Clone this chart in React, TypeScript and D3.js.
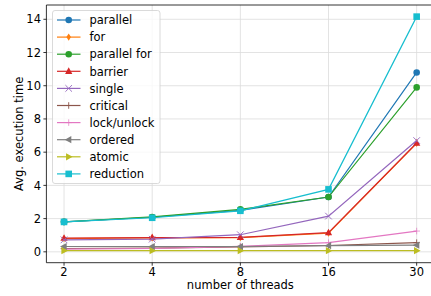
import React from "react";
import * as d3 from "d3";

const threads = ["2", "4", "8", "16", "30"];
const seriesNames = ["parallel", "for", "parallel for", "barrier", "single", "critical", "lock/unlock", "ordered", "atomic", "reduction"];
const parallel = [1.8, 2.08, 2.5, 3.3, 10.8];
const forLoop = [0.8, 0.84, 0.86, 1.12, 6.53];
const parallelFor = [1.8, 2.1, 2.56, 3.3, 9.9];
const barrier = [0.82, 0.86, 0.87, 1.15, 6.55];
const single = [0.72, 0.76, 1.03, 2.15, 6.7];
const critical = [0.2, 0.22, 0.3, 0.38, 0.55];
const lockUnlock = [0.16, 0.2, 0.33, 0.55, 1.25];
const ordered = [0.32, 0.32, 0.32, 0.37, 0.4];
const atomic = [0.07, 0.07, 0.07, 0.07, 0.07];
const reduction = [1.8, 2.05, 2.47, 3.76, 14.16];
const yTicks = [0, 2, 4, 6, 8, 10, 12, 14];

const seriesValues = [parallel, forLoop, parallelFor, barrier, single, critical, lockUnlock, ordered, atomic, reduction];
const colors = ["#1f77b4", "#ff7f0e", "#2ca02c", "#d62728", "#9467bd", "#8c564b", "#e377c2", "#7f7f7f", "#bcbd22", "#17becf"];
const markers = ["circle", "diamond", "circle", "triUp", "x", "plus", "plusSmall", "triLeft", "triRight", "square"];

const W = 431, H = 296;
const L = 46.4, R = 434.3, T = 5, B = 262.7;
const FONT = "DejaVu Sans, sans-serif";
const FS = 11.5;

function Marker({ type, x, y, c }: { type: string; x: number; y: number; c: string }) {
  const r = 3.3;
  switch (type) {
    case "circle":
      return <circle cx={x} cy={y} r={r} fill={c} />;
    case "square":
      return <rect x={x - r} y={y - r} width={2 * r} height={2 * r} fill={c} />;
    case "diamond":
      return <path d={`M${x},${y - r * 1.1}L${x + r * 0.7},${y}L${x},${y + r * 1.1}L${x - r * 0.7},${y}Z`} fill={c} />;
    case "triUp":
      return <path d={`M${x},${y - r * 1.2}L${x + r * 1.1},${y + r * 0.8}L${x - r * 1.1},${y + r * 0.8}Z`} fill={c} />;
    case "triLeft":
      return <path d={`M${x - r * 1.2},${y}L${x + r * 0.8},${y - r * 1.1}L${x + r * 0.8},${y + r * 1.1}Z`} fill={c} />;
    case "triRight":
      return <path d={`M${x + r * 1.2},${y}L${x - r * 0.8},${y - r * 1.1}L${x - r * 0.8},${y + r * 1.1}Z`} fill={c} />;
    case "x":
      return <path d={`M${x - r},${y - r}L${x + r},${y + r}M${x - r},${y + r}L${x + r},${y - r}`} stroke={c} strokeWidth={0.9} />;
    case "plus":
      return <path d={`M${x - r},${y}L${x + r},${y}M${x},${y - r}L${x},${y + r}`} stroke={c} strokeWidth={0.9} />;
    case "plusSmall":
      return <path d={`M${x - r},${y}L${x + r},${y}M${x},${y - r}L${x},${y + r}`} stroke={c} strokeWidth={0.7} />;
  }
  return null;
}

export default function App() {
  const x = d3.scaleLinear().domain([-0.2, 4.2]).range([L, R]);
  const y = d3.scaleLinear().domain([-0.655, 14.86]).range([B, T]);
  const line = d3.line<number>().x((_, i) => x(i)).y((d) => y(d));

  const legX = 52.5, legY = 10.5, legW = 107.5, legH = 173, rowH = 17.1;

  return (
    <svg width={W} height={H} style={{ position: "absolute", left: 0, top: 0 }} fontFamily={FONT}>
      <rect width={W} height={H} fill="#fff" />
      <defs>
        <clipPath id="plot"><rect x={L} y={T} width={R - L} height={B - T} /></clipPath>
      </defs>
      {threads.map((t, i) => (
        <line key={"gx" + t} x1={x(i)} x2={x(i)} y1={T} y2={B} stroke="#dcdcdc" strokeWidth={0.8} />
      ))}
      {yTicks.map((v) => (
        <line key={"gy" + v} x1={L} x2={R} y1={y(v)} y2={y(v)} stroke="#dcdcdc" strokeWidth={0.8} />
      ))}
      <g clipPath="url(#plot)">
        {seriesValues.map((vals, si) => (
          <g key={seriesNames[si]}>
            <path d={line(vals) || ""} fill="none" stroke={colors[si]} strokeWidth={1.2} />
            {vals.map((v, i) => (
              <Marker key={i} type={markers[si]} x={x(i)} y={y(v)} c={colors[si]} />
            ))}
          </g>
        ))}
      </g>
      <line x1={L} x2={L} y1={T} y2={B} stroke="#000" strokeWidth={0.8} />
      <line x1={L} x2={R} y1={B} y2={B} stroke="#000" strokeWidth={0.8} />
      <line x1={L} x2={R} y1={T} y2={T} stroke="#000" strokeWidth={0.8} />
      <line x1={R} x2={R} y1={T} y2={B} stroke="#000" strokeWidth={0.8} />
      {threads.map((t, i) => (
        <g key={"xt" + t}>
          <line x1={x(i)} x2={x(i)} y1={B} y2={B + 3} stroke="#000" strokeWidth={0.8} />
          <text x={x(i)} y={276} textAnchor="middle" fontSize={FS} fill="#000">{t}</text>
        </g>
      ))}
      {yTicks.map((v) => (
        <g key={"yt" + v}>
          <line x1={L - 3} x2={L} y1={y(v)} y2={y(v)} stroke="#000" strokeWidth={0.8} />
          <text x={41} y={y(v) + 4.2} textAnchor="end" fontSize={FS} fill="#000">{v}</text>
        </g>
      ))}
      <text x={(L + R) / 2} y={289} textAnchor="middle" fontSize={FS} fill="#000">number of threads</text>
      <text transform={`translate(23,${(T + B) / 2}) rotate(-90)`} textAnchor="middle" fontSize={FS} fill="#000">Avg. execution time</text>
      <rect x={legX} y={legY} width={legW} height={legH} rx={2.5} fill="#fff" fillOpacity={0.8} stroke="#d0d0d0" strokeWidth={0.8} />
      {seriesNames.map((n, si) => {
        const cy = 20 + si * rowH;
        return (
          <g key={"lg" + n}>
            <line x1={57} x2={80.5} y1={cy} y2={cy} stroke={colors[si]} strokeWidth={1.2} />
            <Marker type={markers[si]} x={68.7} y={cy} c={colors[si]} />
            <text x={89.5} y={cy + 4.2} fontSize={FS} fill="#000">{n}</text>
          </g>
        );
      })}
    </svg>
  );
}
